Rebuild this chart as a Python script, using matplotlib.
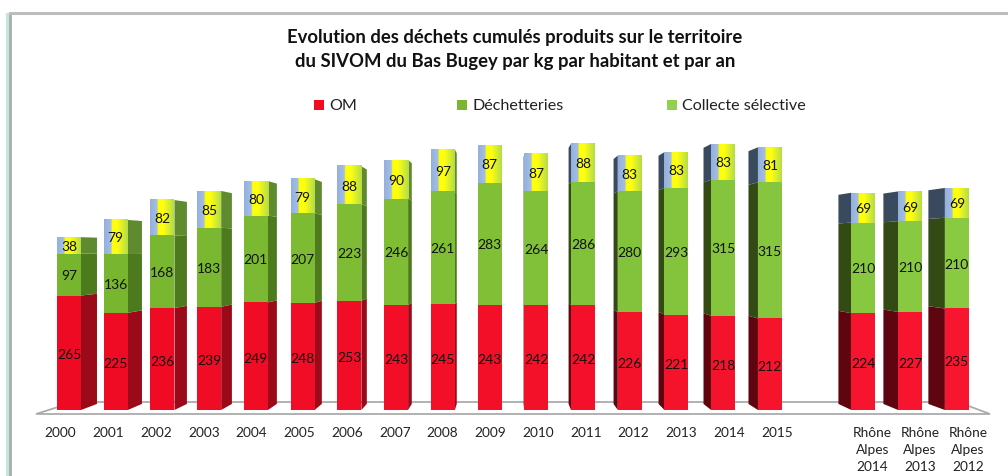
import numpy as np
import matplotlib
matplotlib.use('Agg')
import matplotlib.pyplot as plt
from matplotlib.colors import LinearSegmentedColormap, to_rgb
from matplotlib.patches import Polygon, Rectangle

plt.rcParams['font.family'] = ['Lato', 'DejaVu Sans']

# data
years = ['2000', '2001', '2002', '2003', '2004', '2005', '2006', '2007', '2008', '2009',
         '2010', '2011', '2012', '2013', '2014', '2015',
         'Rhône\nAlpes\n2014', 'Rhône\nAlpes\n2013', 'Rhône\nAlpes\n2012']
positions = [0, 1, 2, 3, 4, 5, 6, 7, 8, 9, 10, 11, 12, 13, 14, 15, 17, 18, 19]
om = [265, 225, 236, 239, 249, 248, 253, 243, 245, 243, 242, 242, 226, 221, 218, 212, 224, 227, 235]
decheteries = [97, 136, 168, 183, 201, 207, 223, 246, 261, 283, 264, 286, 280, 293, 315, 315, 210, 210, 210]
collecte = [38, 79, 82, 85, 80, 79, 88, 90, 97, 87, 87, 88, 83, 83, 83, 81, 69, 69, 69]

title = 'Evolution des déchets cumulés produits sur le territoire\ndu SIVOM du Bas Bugey par kg par habitant et par an'

W, H = 1008, 477
X0, DX = 69, 46.73   # pixel of first bar, pixels per category
Y0, DY = 411, 0.432  # pixel of zero, pixels per kg
BAR_W = 24 / DX
# perspective: back of the bars goes towards this point
VX, VY = (506 - X0) / DX, (Y0 - 250) / DY
DEPTH = 0.0376


def fx(px):
    return px / W


def fy(py):
    return 1 - py / H


def back(x, y):
    return x + DEPTH * (VX - x), y + DEPTH * (VY - y)


def mix(c1, c2, t):
    a, b = np.array(to_rgb(c1)), np.array(to_rgb(c2))
    return tuple(a + (b - a) * t)


fig = plt.figure(figsize=(W / 100, H / 100), dpi=100)
ax = fig.add_axes([0, 0, 1, 1])
ax.axis('off')

# slide frame
fig.add_artist(Rectangle((fx(6), 0), 3 / W, fy(14), transform=fig.transFigure, color='#BFE8D6', lw=0))
fig.add_artist(Rectangle((fx(9), 0), 3 / W, fy(13), transform=fig.transFigure, color='#B0B0B0', lw=0))
fig.add_artist(Rectangle((fx(9), fy(16)), 1 - fx(9), 3 / H, transform=fig.transFigure, color='#BDBDBD', lw=0))

# floor
ax.add_patch(Polygon([(fx(36), fy(415)), (fx(74), fy(403)), (fx(958), fy(403)), (fx(990), fy(415))],
                     closed=True, facecolor='white', edgecolor='#ABABAB', lw=1.3,
                     transform=ax.transAxes, zorder=1))

top_cmap = LinearSegmentedColormap.from_list(
    'top', [(0, '#93B1DD'), (0.3, '#A5BFE4'), (0.33, '#FFFF00'), (0.55, '#FFFF10'), (1, '#B4DC48')])
gradient = np.linspace(0, 1, 128).reshape(1, -1)

for i, x in enumerate(positions):
    t = x / 19
    left, right = x - BAR_W / 2, x + BAR_W / 2
    y1 = om[i]
    y2 = y1 + decheteries[i]
    y3 = y2 + collecte[i]

    # side faces
    edge = right if x < VX else left
    if x < VX:
        sides = ['#9A0A18', '#4E7A1E', '#5F8A30']
    else:
        sides = ['#5E0510', '#344A14', '#3A4A5E']
    for (a, b), col in zip([(0, y1), (y1, y2), (y2, y3)], sides):
        bx0, by0 = back(edge, a)
        bx1, by1 = back(edge, b)
        ax.add_patch(Polygon([(edge, a), (bx0, by0), (bx1, by1), (edge, b)], closed=True,
                             facecolor=col, edgecolor='none', zorder=2))

    # front faces
    ax.bar(x, om[i], BAR_W, color=mix('#EE0A22', '#F8152F', t), zorder=3)
    ax.bar(x, decheteries[i], BAR_W, bottom=y1, color=mix('#78B52E', '#8ACA42', t), zorder=3)
    ax.imshow(gradient, extent=(left, right, y2, y3), cmap=top_cmap, aspect='auto',
              interpolation='bilinear', zorder=3)

    ax.text(x, y1 / 2 - 4, om[i], ha='center', va='center', fontsize=10, color='#111111', zorder=4)
    ax.text(x, y1 + decheteries[i] / 2 - 1, decheteries[i], ha='center', va='center', fontsize=10,
            color='#111111', zorder=4)
    ax.text(x, y2 + collecte[i] / 2 - 1, collecte[i], ha='center', va='center', fontsize=10,
            color='#111111', zorder=4)

    # category labels sit on the front edge of the floor, a bit wider than the bars
    ax.text(fx(60.5 + 47.75 * x), fy(427.5), years[i], ha='center', va='top', fontsize=9.8, color='#222222',
            linespacing=1.5, transform=ax.transAxes)

ax.set_xlim(-X0 / DX, (W - X0) / DX)
ax.set_ylim((Y0 - H) / DY, Y0 / DY)

fig.text(fx(515), fy(37), title.split('\n')[0], ha='center', va='center', fontsize=13.3, fontweight='bold',
         color='#111111')
fig.text(fx(515), fy(62), title.split('\n')[1], ha='center', va='center', fontsize=13.3, fontweight='bold',
         color='#111111')

# legend
for px, col, lab in [(314, '#F00A22', 'OM'), (457, '#7AB72F', 'Déchetteries'), (667, '#92D04F', 'Collecte sélective')]:
    fig.add_artist(Rectangle((fx(px), fy(110.5)), 10 / W, 10 / H, transform=fig.transFigure, color=col, lw=0))
    fig.text(fx(px + 15), fy(105.5), lab, ha='left', va='center', fontsize=11.6, color='#222222')

fig.savefig('out.png', dpi=100)
